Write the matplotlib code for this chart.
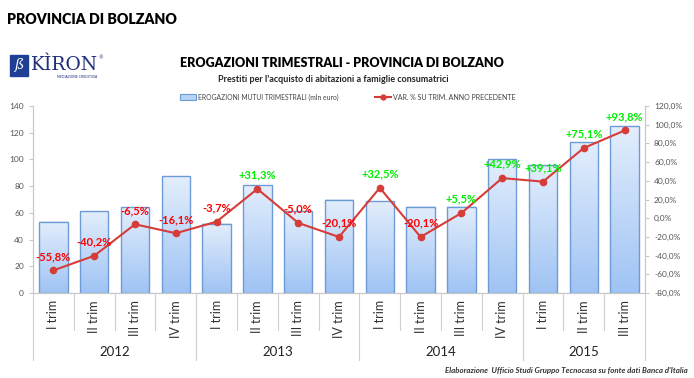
import matplotlib
matplotlib.use("Agg")
import matplotlib.pyplot as plt
import numpy as np
from matplotlib.lines import Line2D
from matplotlib.patches import Rectangle
from matplotlib.colors import LinearSegmentedColormap
from matplotlib.transforms import blended_transform_factory

quarters = ["I trim", "II trim", "III trim", "IV trim",
            "I trim", "II trim", "III trim", "IV trim",
            "I trim", "II trim", "III trim", "IV trim",
            "I trim", "II trim", "III trim"]
years = ["2012", "2013", "2014", "2015"]
year_counts = [4, 4, 4, 3]
erogazioni = [53.5, 61.3, 64.3, 87.4, 51.8, 80.7, 61.3, 70.0, 68.8, 64.5, 64.5, 100.0, 95.7, 113.0, 125.0]
variazione = [-55.8, -40.2, -6.5, -16.1, -3.7, 31.3, -5.0, -20.1, 32.5, -20.1, 5.5, 42.9, 39.1, 75.1, 93.8]
var_labels = ["-55,8%", "-40,2%", "-6,5%", "-16,1%", "-3,7%", "+31,3%", "-5,0%", "-20,1%",
              "+32,5%", "-20,1%", "+5,5%", "+42,9%", "+39,1%", "+75,1%", "+93,8%"]

FONT = "Lato"
W, H = 694, 378
fig = plt.figure(figsize=(W / 100, H / 100), dpi=100)
fig.patch.set_facecolor("white")

ax = fig.add_axes([33 / W, 1 - 293 / H, (645 - 33) / W, (293 - 106) / H])
ax2 = ax.twinx()

x = np.arange(len(erogazioni))
bars = ax.bar(x, erogazioni, width=0.70, color="none", edgecolor="#6d9bd6", linewidth=1.0, zorder=3)
grad = np.linspace(0, 1, 256).reshape(-1, 1)
cmap = LinearSegmentedColormap.from_list("g", ["#e3eefc", "#9fc3f4"])
for b in bars:
    x0, w, h = b.get_x(), b.get_width(), b.get_height()
    ax.imshow(grad, extent=[x0, x0 + w, 0, h], aspect="auto", cmap=cmap, origin="upper", zorder=2)

ax.set_xlim(-0.5, len(erogazioni) - 0.5)
ax.set_ylim(0, 140)
ax.set_yticks(np.arange(0, 141, 20))
ax2.set_ylim(-80, 120)
ax2.set_yticks(np.arange(-80, 121, 20))
ax2.set_yticklabels([f"{v:.1f}%".replace(".", ",") for v in np.arange(-80, 121, 20)])

ax2.plot(x, variazione, color="#d63c38", linewidth=1.5, marker="o", markersize=4.5, zorder=5)
for xi, v, lab in zip(x, variazione, var_labels):
    col = "#00ee00" if v > 0 else "#ff0000"
    ax2.annotate(lab, (xi, v), xytext=(0, 6), textcoords="offset points", ha="center", va="bottom",
                 color=col, fontsize=8, fontweight="bold", family=FONT, zorder=6)

for a in (ax, ax2):
    a.spines["top"].set_visible(False)
    a.spines["left"].set_color("#c8c8c8")
    a.spines["right"].set_color("#c8c8c8")
    a.spines["bottom"].set_color("#c8c8c8")
    a.tick_params(axis="y", colors="#c8c8c8", labelcolor="#555555", labelsize=6, length=3, width=0.8)
for lab in ax.get_yticklabels() + ax2.get_yticklabels():
    lab.set_family(FONT)

ax.set_xticks(x)
ax.set_xticklabels(quarters, rotation=90, fontsize=9, family=FONT, color="#333333")
ax.tick_params(axis="x", length=0, pad=5)
ax.set_zorder(1)
ax2.set_zorder(2)
ax2.patch.set_visible(False)
ax.set_facecolor("none")

# category separators
tr = blended_transform_factory(ax.transData, ax.transAxes)
ax_h = 187.0
bounds = np.cumsum([0] + year_counts)
year_edges = set(bounds.tolist())
for i in range(len(erogazioni) + 1):
    xb = i - 0.5
    low = -67 / ax_h if i in year_edges else -37 / ax_h
    ax.add_line(Line2D([xb, xb], [0, low], transform=tr, color="#d0d0d0", linewidth=0.8, clip_on=False))
for yr, s, e in zip(years, bounds[:-1], bounds[1:]):
    ax.text((s + e - 1) / 2, -59 / ax_h, yr, transform=tr, ha="center", va="center",
            fontsize=9.5, family=FONT, color="#222222")

# texts
fig.text(7 / W, 1 - 20 / H, "PROVINCIA DI BOLZANO", fontsize=10.2, fontweight="heavy", family=FONT,
         va="center", ha="left", color="black")
fig.text(342 / W, 1 - 63 / H, "EROGAZIONI TRIMESTRALI - PROVINCIA DI BOLZANO", fontsize=9.0,
         fontweight="heavy", family=FONT, va="center", ha="center")
fig.text(333 / W, 1 - 79 / H, "Prestiti per l'acquisto di abitazioni a famiglie consumatrici", fontsize=6.5,
         fontweight="bold", family=FONT, va="center", ha="center", color="#222222")

# legend
fig.patches.append(Rectangle((180 / W, 1 - 99.5 / H), 16 / W, 5 / H, transform=fig.transFigure,
                             facecolor="#b9d3f7", edgecolor="#6d9bd6", linewidth=0.8))
fig.text(198 / W, 1 - 97 / H, "EROGAZIONI MUTUI TRIMESTRALI (mln euro)", fontsize=4.9, family=FONT,
         va="center", ha="left", color="#444444")
fig.lines.append(Line2D([375 / W, 391 / W], [1 - 97 / H, 1 - 97 / H], transform=fig.transFigure,
                        color="#d63c38", linewidth=1.5))
fig.lines.append(Line2D([383 / W], [1 - 97 / H], transform=fig.transFigure,
                        color="#d63c38", marker="o", markersize=3.5))
fig.text(393 / W, 1 - 97 / H, "VAR. % SU TRIM. ANNO PRECEDENTE", fontsize=5.0, family=FONT,
         va="center", ha="left", color="#444444")

# logo
fig.patches.append(Rectangle((10 / W, 1 - 76 / H), 18 / W, 21 / H, transform=fig.transFigure,
                             facecolor="#1f3f95", edgecolor="#1f3f95"))
fig.text(19 / W, 1 - 65.5 / H, "ß", fontsize=10, color="white", family="DejaVu Serif",
         ha="center", va="center", style="italic")
fig.text(31 / W, 1 - 64.5 / H, "KÌRON", fontsize=13.5, color="#1f2f7a", family="DejaVu Serif",
         ha="left", va="center")
fig.text(98 / W, 1 - 58 / H, "®", fontsize=3.5, color="#1f2f7a", ha="left", va="center")
fig.text(77 / W, 1 - 77.5 / H, "MEDIAZIONE CREDITIZIA", fontsize=2.3, color="#1f2f7a", ha="center",
         va="center")

fig.text(688 / W, 1 - 371 / H, "Elaborazione  Ufficio Studi Gruppo Tecnocasa su fonte dati Banca d'Italia",
         fontsize=5.7, style="italic", fontweight="bold", family=FONT, ha="right", va="center", color="#333333")

fig.savefig("out.png", dpi=100, facecolor="white")
